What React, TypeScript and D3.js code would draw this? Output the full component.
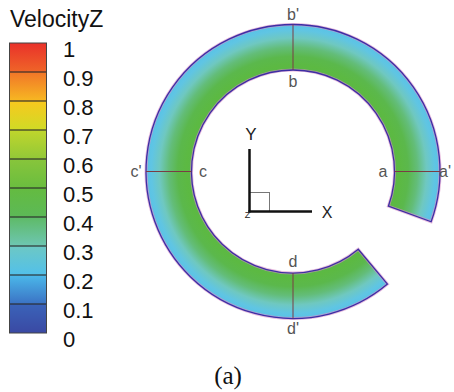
import React from 'react'
import * as d3 from 'd3'

// colour bar
const legendTicks = [0, 0.1, 0.2, 0.3, 0.4, 0.5, 0.6, 0.7, 0.8, 0.9, 1]
const legendLabels = ['0', '0.1', '0.2', '0.3', '0.4', '0.5', '0.6', '0.7', '0.8', '0.9', '1']
// colour map of the contour plot (value -> colour)
const cmapValues = [0, 0.1, 0.15, 0.2, 0.25, 0.3, 0.35, 0.4, 0.45, 0.5, 0.6, 0.7, 0.75, 0.8, 0.85, 0.9, 1]
const cmapColors = ['#3a46a0', '#3a66bc', '#40a2e2', '#4ebfec', '#62c6e2', '#70c8bc', '#68c08c', '#5cb95c', '#5ab842',
  '#66bc40', '#8cc63a', '#c6d82a', '#f6e818', '#f8c020', '#f49a28', '#f06c28', '#e82a2a']

// velocity profile across the channel, 0 = inner wall, 1 = outer wall
const profilePos = [0, 0.1, 0.3, 0.5, 0.7, 0.88, 1]
const profileVel = [0.44, 0.46, 0.43, 0.37, 0.295, 0.245, 0.225]

// opening of the ring, degrees below the +X axis
const gapDeg = [20, 50]

// section cuts (screen degrees, 0 = +X, counter-clockwise) and their labels
const cutAngles = [0, 90, 180, 270]
const innerLabels = ['a', 'b', 'c', 'd']
const outerLabels = ["a'", "b'", "c'", "d'"]

const W = 454, H = 392
const cx = 293, cy = 171.5
const rIn = 101.5, rOut = 147

export default function App() {
  const yLeg = d3.scaleLinear().domain([0, 1]).range([333, 43])
  const color = d3.scaleLinear<string>().domain(cmapValues).range(cmapColors).interpolate(d3.interpolateRgb)
  const toRad = (d: number) => (d * Math.PI) / 180

  // d3.arc angles: 0 at 12 o'clock, clockwise
  const ring = d3.arc()({
    innerRadius: rIn,
    outerRadius: rOut,
    startAngle: toRad(90 + gapDeg[1]),
    endAngle: toRad(90 + gapDeg[0] + 360),
  } as any) as string

  const pt = (deg: number, r: number) => [cx + r * Math.cos(toRad(deg)), cy - r * Math.sin(toRad(deg))]

  const bins = d3.range(legendTicks.length - 1)

  return (
    <svg width={W} height={H} style={{ position: 'absolute', left: 0, top: 0 }}
      fontFamily="'Liberation Sans', Arial, sans-serif">
      <defs>
        {bins.map(i => (
          <linearGradient key={i} id={'bin' + i} x1="0" y1="0" x2="0" y2="1">
            <stop offset="0" stopColor={color(legendTicks[i + 1] - 0.01)} />
            <stop offset="1" stopColor={color(legendTicks[i] + 0.01)} />
          </linearGradient>
        ))}
        {/* centred on the ring's own origin (the path is translated) */}
        <radialGradient id="ringFill" gradientUnits="userSpaceOnUse" cx={0} cy={0} r={rOut}>
          {profilePos.map((p, i) => (
            <stop key={i} offset={(rIn + p * (rOut - rIn)) / rOut} stopColor={color(profileVel[i])} />
          ))}
        </radialGradient>
      </defs>
      <rect width={W} height={H} fill="#fff" />

      {/* colour bar */}
      <text x={10} y={27} fontSize={23} fill="#111">VelocityZ</text>
      {bins.map(i => (
        <rect key={i} x={9.5} width={37} y={yLeg(legendTicks[i + 1])}
          height={yLeg(legendTicks[i]) - yLeg(legendTicks[i + 1])} fill={`url(#bin${i})`} />
      ))}
      {legendTicks.slice(1, -1).map((t, i) => (
        <line key={i} x1={9.5} x2={46.5} y1={yLeg(t)} y2={yLeg(t)} stroke="#2a2a2a" strokeOpacity={0.75} strokeWidth={1.5} />
      ))}
      <rect x={9.5} y={yLeg(1)} width={37} height={yLeg(0) - yLeg(1)} fill="none" stroke="#444" strokeWidth={1} />
      {legendTicks.map((t, i) => (
        <text key={i} x={63} y={yLeg(t) + 6} dominantBaseline="central" fontSize={22} fill="#111">{legendLabels[i]}</text>
      ))}

      {/* ring */}
      <g transform={`translate(${cx},${cy})`}>
        <path d={ring} fill="url(#ringFill)" stroke="#d890c8" strokeOpacity={0.6} strokeWidth={3} />
        <path d={ring} fill="none" stroke="#3e2ea4" strokeWidth={1.3} />
      </g>
      {cutAngles.map((a, i) => {
        const p0 = pt(a, rIn), p1 = pt(a, rOut)
        const q0 = pt(a, 90), q1 = pt(a, a === 0 ? 152 : 157)
        return (
          <g key={i}>
            <line x1={p0[0]} y1={p0[1]} x2={p1[0]} y2={p1[1]} stroke="#7a3c44" strokeWidth={1} />
            <text x={q0[0]} y={q0[1]} textAnchor="middle" dominantBaseline="central" fontSize={16} fill="#555">{innerLabels[i]}</text>
            <text x={q1[0]} y={q1[1]} textAnchor="middle" dominantBaseline="central" fontSize={16} fill="#555">{outerLabels[i]}</text>
          </g>
        )
      })}

      {/* coordinate triad */}
      <rect x={249.5} y={192.5} width={20} height={19} fill="none" stroke="#777" strokeWidth={1} />
      <line x1={249.5} y1={149} x2={249.5} y2={212.5} stroke="#111" strokeWidth={2.5} />
      <line x1={248.5} y1={211.5} x2={312} y2={211.5} stroke="#111" strokeWidth={2.5} />
      <text x={251} y={134} textAnchor="middle" dominantBaseline="central" fontSize={17} fill="#222">Y</text>
      <text x={327} y={212} textAnchor="middle" dominantBaseline="central" fontSize={16} fill="#222">X</text>
      <text x={247.5} y={215} textAnchor="middle" dominantBaseline="central" fontSize={9} fill="#222">Z</text>

      <text x={228} y={375} textAnchor="middle" dominantBaseline="central" fontSize={25}
        fontFamily="'Liberation Serif', 'Times New Roman', serif" fill="#111">(a)</text>
    </svg>
  )
}
